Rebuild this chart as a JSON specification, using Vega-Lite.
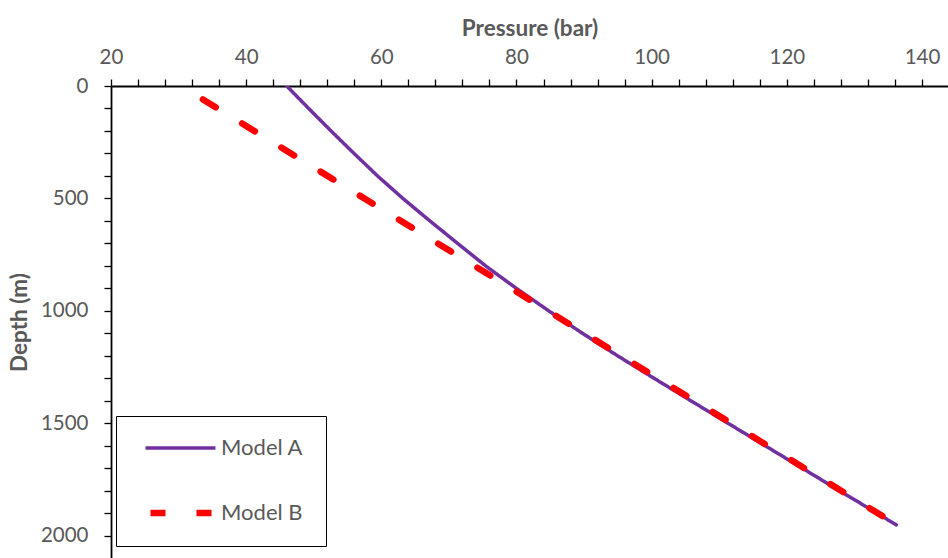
{
  "$schema": "https://vega.github.io/schema/vega-lite/v6.json",
  "width": 837,
  "height": 472,
  "autosize": {"type": "none"},
  "padding": {"left": 111, "top": 86, "right": 0, "bottom": 0},
  "background": "white",
  "config": {"view": {"stroke": null}, "font": "Lato"},
  "data": {
    "values": [
      {"model": "Model A", "depth": 0, "pressure": 46.0},
      {"model": "Model A", "depth": 100, "pressure": 49.25},
      {"model": "Model A", "depth": 200, "pressure": 52.57},
      {"model": "Model A", "depth": 300, "pressure": 55.97},
      {"model": "Model A", "depth": 400, "pressure": 59.45},
      {"model": "Model A", "depth": 500, "pressure": 63.2},
      {"model": "Model A", "depth": 600, "pressure": 67.2},
      {"model": "Model A", "depth": 700, "pressure": 71.3},
      {"model": "Model A", "depth": 800, "pressure": 75.45},
      {"model": "Model A", "depth": 900, "pressure": 80.0},
      {"model": "Model A", "depth": 1000, "pressure": 84.8},
      {"model": "Model A", "depth": 1100, "pressure": 89.8},
      {"model": "Model A", "depth": 1200, "pressure": 95.0},
      {"model": "Model A", "depth": 1300, "pressure": 100.4},
      {"model": "Model A", "depth": 1400, "pressure": 105.85},
      {"model": "Model A", "depth": 1500, "pressure": 111.35},
      {"model": "Model A", "depth": 1600, "pressure": 116.85},
      {"model": "Model A", "depth": 1700, "pressure": 122.35},
      {"model": "Model A", "depth": 1800, "pressure": 127.85},
      {"model": "Model A", "depth": 1900, "pressure": 133.4},
      {"model": "Model A", "depth": 1951, "pressure": 136.2},
      {"model": "Model B", "depth": 60, "pressure": 33.6},
      {"model": "Model B", "depth": 500, "pressure": 57.5},
      {"model": "Model B", "depth": 1000, "pressure": 84.66},
      {"model": "Model B", "depth": 1500, "pressure": 111.8},
      {"model": "Model B", "depth": 1951, "pressure": 136.3}
    ]
  },
  "mark": {"type": "line", "strokeCap": "round", "strokeJoin": "round", "clip": true},
  "encoding": {
    "x": {
      "field": "pressure",
      "type": "quantitative",
      "scale": {"domain": [20, 143.85], "nice": false, "zero": false},
      "axis": {
        "orient": "top",
        "title": "Pressure (bar)",
        "titleFontSize": 22.5,
        "titleFontWeight": "bold",
        "titleColor": "#595959",
        "titlePadding": 7,
        "values": [20,24,28,32,36,40,44,48,52,56,60,64,68,72,76,80,84,88,92,96,100,104,108,112,116,120,124,128,132,136,140],
        "labelExpr": "datum.value % 20 === 0 ? datum.label : ''",
        "labelOverlap": false,
        "labelFlush": false,
        "labelFontSize": 20.5,
        "labelColor": "#595959",
        "labelPadding": 12,
        "tickSize": 7,
        "tickColor": "black",
        "tickWidth": 1.3,
        "domainColor": "black",
        "domainWidth": 1.8,
        "grid": false,
        "encode": {
          "ticks": {
            "update": {
              "y": {"signal": "datum.value % 20 === 0 ? 7 : 0"},
              "y2": {"signal": "datum.value % 20 === 0 ? -7 : -6"}
            }
          }
        }
      }
    },
    "y": {
      "field": "depth",
      "type": "quantitative",
      "scale": {"domain": [0, 2098], "nice": false, "reverse": true},
      "axis": {
        "orient": "left",
        "title": "Depth (m)",
        "titleFontSize": 22.5,
        "titleFontWeight": "bold",
        "titleColor": "#595959",
        "titlePadding": 9,
        "values": [0,100,200,300,400,500,600,700,800,900,1000,1100,1200,1300,1400,1500,1600,1700,1800,1900,2000],
        "labelExpr": "datum.value % 500 === 0 ? datum.label : ''",
        "format": "d",
        "labelOverlap": false,
        "labelFlush": false,
        "labelFontSize": 20.5,
        "labelColor": "#595959",
        "labelPadding": 16,
        "tickSize": 7,
        "tickColor": "black",
        "tickWidth": 1.3,
        "domainColor": "black",
        "domainWidth": 1.8,
        "grid": false,
        "encode": {
          "ticks": {
            "update": {
              "x": {"signal": "datum.value % 500 === 0 ? 7 : 0"},
              "x2": {"signal": "datum.value % 500 === 0 ? -8 : -6"}
            }
          }
        }
      }
    },
    "order": {"field": "depth", "type": "quantitative"},
    "color": {
      "field": "model",
      "type": "nominal",
      "scale": {"domain": ["Model A", "Model B"], "range": ["#7030A0", "#FF0000"]},
      "legend": {
        "orient": "none",
        "legendX": 5,
        "legendY": 330,
        "title": null,
        "strokeColor": "black",
        "fillColor": "white",
        "padding": 22,
        "symbolType": "stroke",
        "symbolSize": 4900,
        "symbolOffset": 4,
        "symbolDashOffset": -5,
        "clipHeight": 20,
        "rowPadding": 43,
        "labelFontSize": 22,
        "labelColor": "#595959",
        "labelOffset": 2
      }
    },
    "strokeDash": {
      "field": "model",
      "type": "nominal",
      "scale": {"domain": ["Model A", "Model B"], "range": [[1, 0], [15, 31]]}
    },
    "strokeWidth": {
      "field": "model",
      "type": "nominal",
      "scale": {"domain": ["Model A", "Model B"], "range": [3.5, 6.5]}
    }
  }
}
